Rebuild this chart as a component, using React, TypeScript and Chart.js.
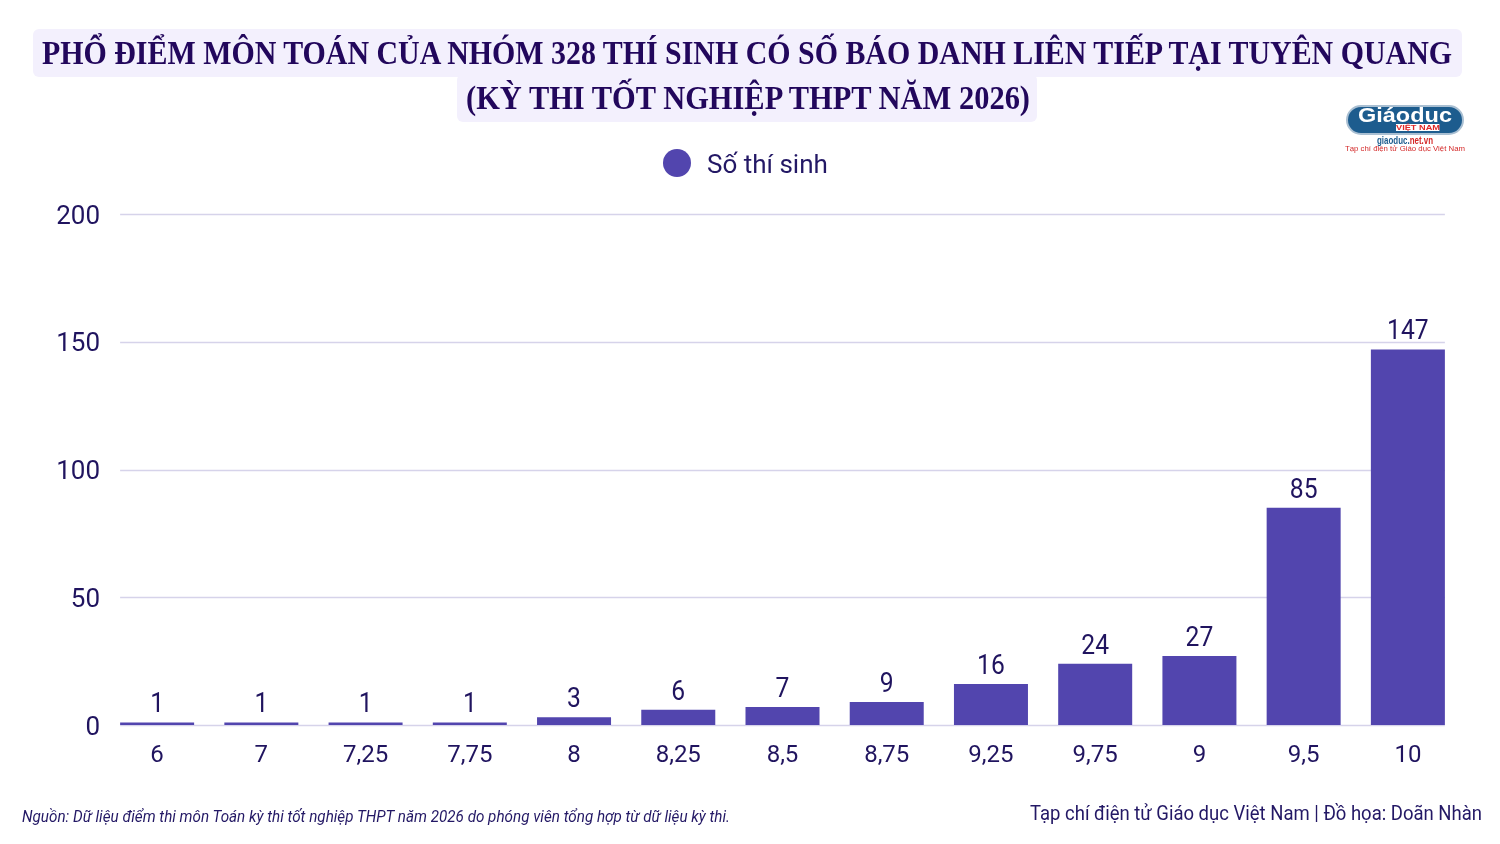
import React, { useEffect, useLayoutEffect, useRef } from "react";
import { Chart, registerables } from "chart.js";

Chart.register(...registerables);

const categories = ["6", "7", "7,25", "7,75", "8", "8,25", "8,5", "8,75", "9,25", "9,75", "9", "9,5", "10"];
const values = [1, 1, 1, 1, 3, 6, 7, 9, 16, 24, 27, 85, 147];
const seriesLabel = "Số thí sinh";
const yMin = 0;
const yMax = 200;
const yStep = 50;

const titleLine1 = "PHỔ ĐIỂM MÔN TOÁN CỦA NHÓM 328 THÍ SINH CÓ SỐ BÁO DANH LIÊN TIẾP TẠI TUYÊN QUANG";
const titleLine2 = "(KỲ THI TỐT NGHIỆP THPT NĂM 2026)";
const sourceText = "Nguồn: Dữ liệu điểm thi môn Toán kỳ thi tốt nghiệp THPT năm 2026 do phóng viên tổng hợp từ dữ liệu kỳ thi.";
const creditText = "Tạp chí điện tử Giáo dục Việt Nam | Đồ họa: Doãn Nhàn";

const BAR = "#5245ae";
const INK = "#20145f";
const GRID = "#d6d3ea";

function FitText(props: { text: React.ReactNode; width: number; style: React.CSSProperties; left: number; top: number }) {
  const ref = useRef<HTMLSpanElement>(null);
  useLayoutEffect(() => {
    const el = ref.current;
    if (!el) return;
    el.style.transform = "none";
    const w = el.getBoundingClientRect().width;
    if (w > 0) el.style.transform = `scaleX(${props.width / w})`;
  }, [props.text, props.width]);
  return (
    <span
      ref={ref}
      style={{
        position: "absolute",
        left: props.left,
        top: props.top,
        whiteSpace: "nowrap",
        transformOrigin: "left center",
        display: "inline-block",
        ...props.style,
      }}
    >
      {props.text}
    </span>
  );
}

const gridPlugin = {
  id: "customGrid",
  beforeDatasetsDraw(chart: any) {
    const meta = chart.getDatasetMeta(0);
    if (!meta.data.length) return;
    const first = meta.data[0];
    const last = meta.data[meta.data.length - 1];
    const x1 = first.x - first.width / 2;
    const x2 = last.x + last.width / 2;
    const ys = chart.scales.y;
    const ctx = chart.ctx;
    ctx.save();
    ctx.strokeStyle = GRID;
    ctx.lineWidth = 1.5;
    ys.ticks.forEach((t: any) => {
      const y = Math.round(ys.getPixelForValue(t.value)) + 0.5;
      ctx.beginPath();
      ctx.moveTo(x1, y);
      ctx.lineTo(x2, y);
      ctx.stroke();
    });
    ctx.restore();
  },
};

const labelPlugin = {
  id: "valueLabels",
  afterDatasetsDraw(chart: any) {
    const meta = chart.getDatasetMeta(0);
    const ctx = chart.ctx;
    ctx.save();
    ctx.fillStyle = INK;
    ctx.font = "28px Roboto";
    ctx.textAlign = "center";
    ctx.textBaseline = "alphabetic";
    meta.data.forEach((bar: any, i: number) => {
      const v = chart.data.datasets[0].data[i];
      ctx.save();
      ctx.translate(bar.x, bar.y - 10);
      ctx.scale(0.88, 1);
      ctx.fillText(String(v), 0, 0);
      ctx.restore();
    });
    ctx.restore();
  },
};

export default function App() {
  const canvasRef = useRef<HTMLCanvasElement>(null);

  useEffect(() => {
    document.body.style.margin = "0";
    const canvas = canvasRef.current;
    if (!canvas) return;
    const chart = new Chart(canvas, {
      type: "bar",
      data: {
        labels: categories,
        datasets: [
          {
            label: seriesLabel,
            data: values,
            backgroundColor: BAR,
            borderWidth: 0,
            barPercentage: 0.71,
            categoryPercentage: 1,
          },
        ],
      },
      options: {
        responsive: false,
        animation: false,
        layout: { padding: { left: 0, right: 40, top: 214, bottom: 0 } },
        plugins: {
          legend: { display: false },
          title: { display: false },
          tooltip: { enabled: false },
        },
        scales: {
          x: {
            grid: { display: false, drawTicks: false },
            border: { display: false },
            ticks: {
              color: INK,
              font: { family: "Roboto", size: 24 },
              padding: 17,
              maxRotation: 0,
              autoSkip: false,
            },
            afterFit: (s: any) => {
              s.height = 119;
            },
          },
          y: {
            min: yMin,
            max: yMax,
            grid: { display: false, drawTicks: false },
            border: { display: false },
            ticks: {
              stepSize: yStep,
              color: INK,
              font: { family: "Roboto", size: 26 },
              padding: 5,
              labelOffset: 3,
            },
            afterFit: (s: any) => {
              s.width = 105;
            },
          },
        },
      },
      plugins: [gridPlugin, labelPlugin],
    });
    return () => chart.destroy();
  }, []);

  const logoFont = "'Liberation Sans', Arial, sans-serif";

  return (
    <div style={{ position: "absolute", left: 0, top: 0, width: 1500, height: 844, background: "#ffffff", overflow: "hidden" }}>
      <canvas ref={canvasRef} width={1500} height={844} style={{ position: "absolute", left: 0, top: 0, width: 1500, height: 844 }} />

      {/* Title boxes */}
      <div style={{ position: "absolute", left: 33, top: 29, width: 1429, height: 48, background: "#f3f0fd", borderRadius: 6 }} />
      <div style={{ position: "absolute", left: 457, top: 74, width: 580, height: 48, background: "#f3f0fd", borderRadius: 6 }} />
      <FitText
        text={titleLine1}
        width={1410}
        left={42}
        top={29}
        style={{ fontFamily: "'Liberation Serif', serif", fontWeight: 700, fontSize: 34, lineHeight: "48px", color: "#22075c" }}
      />
      <FitText
        text={titleLine2}
        width={564}
        left={466}
        top={75}
        style={{ fontFamily: "'Liberation Serif', serif", fontWeight: 700, fontSize: 34, lineHeight: "45px", color: "#22075c" }}
      />

      {/* Logo */}
      <div
        style={{
          position: "absolute",
          left: 1346,
          top: 105,
          width: 118,
          height: 30,
          borderRadius: 15,
          background: "#1d5c8e",
          border: "2px solid #a9bfd2",
          boxSizing: "border-box",
        }}
      />
      <FitText
        text="Giáoduc"
        width={94}
        left={1358}
        top={104}
        style={{ fontFamily: logoFont, fontWeight: 700, fontSize: 20, lineHeight: "22px", color: "#ffffff" }}
      />
      <FitText
        text="VIỆT NAM"
        width={44}
        left={1396}
        top={124}
        style={{ fontFamily: logoFont, fontWeight: 700, fontSize: 7, lineHeight: "7px", color: "#e02828", background: "#ffffff" }}
      />
      <FitText
        text={<>giaoduc.<span style={{ color: "#d42a2a" }}>net.vn</span></>}
        width={56}
        left={1377}
        top={135}
        style={{ fontFamily: logoFont, fontSize: 10, lineHeight: "11px", fontWeight: 700, color: "#1d5c8e" }}
      />
      <FitText
        text="Tạp chí điện tử Giáo dục Việt Nam"
        width={120}
        left={1345}
        top={145}
        style={{ fontFamily: logoFont, fontSize: 7, lineHeight: "8px", color: "#d42a2a" }}
      />

      {/* Legend */}
      <div style={{ position: "absolute", left: 663, top: 149, width: 28, height: 28, borderRadius: 14, background: BAR }} />
      <div
        style={{
          position: "absolute",
          left: 707,
          top: 147,
          fontFamily: "Roboto, sans-serif",
          fontSize: 26,
          lineHeight: "34px",
          color: "#231865",
          whiteSpace: "nowrap",
        }}
      >
        {seriesLabel}
      </div>

      {/* Footer */}
      <FitText
        text={sourceText}
        width={708}
        left={22}
        top={804}
        style={{ fontFamily: "Roboto, sans-serif", fontStyle: "italic", fontSize: 17, lineHeight: "24px", color: "#231865" }}
      />
      <FitText
        text={creditText}
        width={452}
        left={1030}
        top={800}
        style={{ fontFamily: "Roboto, sans-serif", fontSize: 21, lineHeight: "26px", color: "#231865" }}
      />
    </div>
  );
}
